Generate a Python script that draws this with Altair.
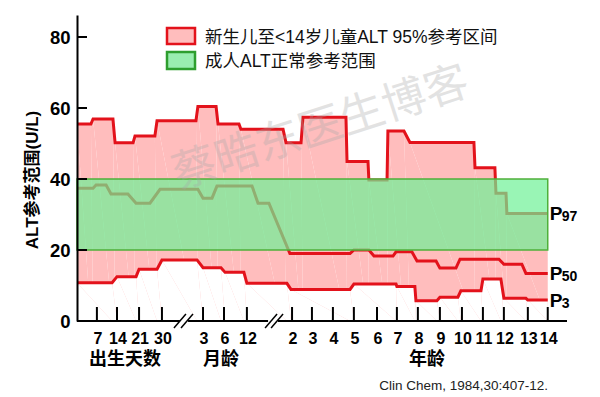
import altair as alt
import pandas as pd

# ---- data (x in age-axis index units: tick spacing = 1) ----
p97_x = [0, 0.65, 0.75, 1.68, 1.78, 2.62, 2.71, 3.64, 3.74, 5.56, 5.65, 6.50, 6.59, 7.57, 7.66, 9.63, 9.77,
         10.47, 10.56, 12.57, 12.62, 13.60, 13.64, 14.49, 14.53, 15.28, 15.56, 18.55, 18.60, 19.53, 19.58,
         20.05, 20.09, 22.0]
p97_v = [55.5, 55.5, 56.9, 56.9, 50.2, 50.2, 52.1, 52.1, 56.4, 56.4, 60.4, 60.4, 55.5, 55.5, 54.0, 54.0, 50.2,
         50.2, 57.4, 57.4, 44.9, 44.9, 39.7, 39.7, 53.5, 53.5, 50.3, 50.3, 43.2, 43.2, 36.0,
         36.0, 30.3, 30.3]

p50_x = [0, 0.75, 0.89, 1.36, 1.59, 2.38, 2.76, 3.41, 3.88, 5.65, 5.89, 6.31, 6.54, 8.18, 8.46, 8.97, 9.95,
         12.76, 12.94, 13.64, 13.88, 14.77, 14.91, 15.65, 15.89, 16.78, 16.96, 17.71, 17.90, 19.72, 19.95,
         20.79, 20.98, 22.0]
p50_v = [37.4, 37.4, 38.3, 38.3, 35.8, 35.8, 33.2, 33.2, 37.1, 37.1, 34.6, 34.6, 38.0, 38.0, 33.2, 33.2, 19.0,
         19.0, 20.0, 20.0, 18.3, 18.3, 19.5, 19.5, 16.9, 16.9, 14.9, 14.9, 17.4, 17.4, 16.0,
         16.0, 13.4, 13.4]

p3_x = [0, 1.64, 1.87, 2.76, 2.90, 3.74, 3.97, 5.61, 5.89, 6.73, 6.92, 7.80, 7.94, 9.81, 10.00, 12.76, 12.94,
        14.91, 14.95, 15.79, 15.84, 16.82, 16.96, 17.80, 17.94, 18.88, 18.97, 19.81, 19.95, 20.98, 21.07, 22.0]
p3_v = [10.8, 10.8, 12.5, 12.5, 14.6, 14.6, 17.2, 17.2, 15.0, 15.0, 13.7, 13.7, 10.6, 10.6, 8.9, 8.9, 10.4,
        10.4, 9.7, 9.7, 5.7, 5.7, 6.7, 6.7, 8.5, 8.5, 11.8, 11.8, 6.4, 6.4, 5.9, 5.9]

adult_low = [20]
adult_high = [40]
adult_x = [0]
adult_x2 = [22.0]

tick_x = [0.93, 1.87, 2.90, 3.97, 5.89, 6.87, 7.94, 10.05, 10.98, 11.96, 12.94, 14.02, 14.95, 15.93,
          16.96, 17.99, 18.97, 19.95, 21.07, 22.0]
tick_labels = ["7", "14", "21", "30", "3", "6", "12", "2", "3", "4", "5", "6", "7", "8", "9",
               "10", "11", "12", "13", "14"]
y_ticks = [20, 40, 60, 80]

axis_start = [0, 5.19, 9.39]
axis_end = [4.81, 8.93, 22.9]
slash_x = [4.53, 4.86, 8.79, 9.07]
slash_x2 = [5.09, 5.42, 9.35, 9.63]

group_labels = ["出生天数", "月龄", "年龄"]
legend_labels = ["新生儿至<14岁儿童ALT 95%参考区间", "成人ALT正常参考范围"]
pct_names = ["97", "50", "3"]
pct_end_v = [p97_v[-1], p50_v[-1], p3_v[-1]]
pct_end_x = [p97_x[-1], p50_x[-1], p3_x[-1]]

FONT = "Liberation Sans, Arial, Noto Sans CJK SC, sans-serif"
RED = "#E3121B"
PINK = "#FFBDBD"

def mk(xs, vs, name):
    return pd.DataFrame({"x": xs, "v": vs, "s": name, "i": range(len(xs))})

d97 = mk(p97_x, p97_v, "P97")
d50 = mk(p50_x, p50_v, "P50")
d3 = mk(p3_x, p3_v, "P3")
lines = pd.concat([d97, d50, d3], ignore_index=True)

xs = alt.Scale(domain=[0, 22.9], nice=False, zero=False)
ys = alt.Scale(domain=[0, 86.2], nice=False, zero=False)

X = alt.X("x:Q", scale=xs, axis=None)

pink = alt.Chart(d97).mark_area(color=PINK, opacity=1).encode(
    x=X,
    y=alt.Y("v:Q", scale=ys, axis=alt.Axis(
        values=[0, 20, 40, 60, 80], ticks=False, grid=False, title=None,
        labelFont=FONT, labelFontSize=18.5, labelFontWeight="bold", labelColor="black",
        labelPadding=7, domainColor="black", domainWidth=2, zindex=1)),
    order="i:Q")

white = alt.Chart(d3).mark_area(color="white", opacity=1).encode(
    x=X, y=alt.Y("v:Q", scale=ys), order="i:Q")

red_lines = alt.Chart(lines).mark_line(color=RED, strokeWidth=3).encode(
    x=X, y=alt.Y("v:Q", scale=ys), detail="s:N", order="i:Q")

band = alt.Chart(pd.DataFrame({"x": adult_x, "x2": adult_x2, "lo": adult_low, "hi": adult_high})).mark_rect(
    fill="#6DF195", fillOpacity=0.7, stroke="#4FB03A", strokeWidth=1.5, strokeOpacity=1).encode(
    x=X, x2="x2:Q", y=alt.Y("lo:Q", scale=ys), y2="hi:Q")

axis_df = pd.DataFrame({"x": axis_start, "x2": axis_end, "v": [0] * 3})
x_axis = alt.Chart(axis_df).mark_rule(color="black", strokeWidth=2).encode(
    x=X, x2="x2:Q", y=alt.Y("v:Q", scale=ys))

slash_df = pd.DataFrame({"x": slash_x, "x2": slash_x2})
slashes = alt.Chart(slash_df).mark_rule(color="black", strokeWidth=1.5).encode(
    x=X, x2="x2:Q", y=alt.value(313), y2=alt.value(299))

tick_df = pd.DataFrame({"x": tick_x, "t": tick_labels})
x_ticks = alt.Chart(tick_df).mark_rule(color="black", strokeWidth=2).encode(
    x=X, y=alt.value(292), y2=alt.value(306))
x_labels = alt.Chart(tick_df).mark_text(font=FONT, fontSize=16, fontWeight="bold", color="black",
                                        baseline="alphabetic", dx=1).encode(
    x=X, y=alt.value(329), text="t:N")

ytick_df = pd.DataFrame({"v": y_ticks})
y_tick_marks = alt.Chart(ytick_df).mark_rule(color="black", strokeWidth=2).encode(
    y=alt.Y("v:Q", scale=ys), x=alt.value(0), x2=alt.value(10))

grp = alt.Chart(pd.DataFrame({"t": group_labels, "px": [48, 144, 350]})).mark_text(
    font=FONT, fontSize=18, fontWeight="bold", color="black", baseline="alphabetic").encode(
    x=alt.X("px:Q", scale=None), y=alt.value(350), text="t:N")

ytitle = alt.Chart(pd.DataFrame({"t": ["ALT参考范围(U/L)"]})).mark_text(
    font=FONT, fontSize=17, fontWeight="bold", color="black", angle=270,
    align="center", baseline="middle").encode(
    x=alt.value(-44), y=alt.value(165), text="t:N")

leg_box = alt.Chart(pd.DataFrame({"y1": [13, 37], "y2": [29, 54], "f": [PINK, "#9AEDB0"],
                                  "s": [RED, "#2E9E2E"]})).mark_rect(strokeWidth=2.5).encode(
    x=alt.value(90), x2=alt.value(118), y=alt.Y("y1:Q", scale=None), y2="y2:Q",
    fill=alt.Fill("f:N", scale=None), stroke=alt.Stroke("s:N", scale=None))

leg_text = alt.Chart(pd.DataFrame({"t": legend_labels, "py": [28, 52]})).mark_text(
    font=FONT, fontSize=17.5, color="#111111", align="left", baseline="alphabetic").encode(
    x=alt.value(128), y=alt.Y("py:Q", scale=None), text="t:N")

pdf = pd.DataFrame({"x": pct_end_x, "v": pct_end_v, "p": ["P"] * 3, "n": pct_names})
p_text = alt.Chart(pdf).mark_text(font=FONT, fontSize=19, fontWeight="bold", color="black",
                                  align="left", baseline="alphabetic", dx=2, dy=7).encode(
    x=X, y=alt.Y("v:Q", scale=ys), text="p:N")
p_sub = alt.Chart(pdf).mark_text(font=FONT, fontSize=14, fontWeight="bold", color="black",
                                 align="left", baseline="alphabetic", dx=14, dy=8).encode(
    x=X, y=alt.Y("v:Q", scale=ys), text="n:N")

cite = alt.Chart(pd.DataFrame({"t": ["Clin Chem, 1984,30:407-12."]})).mark_text(
    font=FONT, fontSize=13.5, color="#222222", align="right", baseline="alphabetic").encode(
    x=alt.value(471), y=alt.value(375), text="t:N")

wm = alt.Chart(pd.DataFrame({"t": ["蔡晧东医生博客"]})).mark_text(
    font="Noto Sans CJK SC", fontSize=44, color="#a8a8a8", opacity=0.32, angle=342,
    align="center", baseline="middle").encode(
    x=alt.value(244), y=alt.value(114), text="t:N")

chart = alt.layer(
    pink, white, red_lines, band, wm, x_axis, slashes, x_ticks, x_labels, y_tick_marks,
    grp, ytitle, leg_box, leg_text, p_text, p_sub, cite
).properties(
    width=490, height=306,
    autosize=alt.AutoSizeParams(type="none"),
    padding={"left": 69, "top": 7, "right": 20, "bottom": 72},
).configure_view(stroke=None)

chart.save("out.html", embed_options={"renderer": "svg", "actions": False})
